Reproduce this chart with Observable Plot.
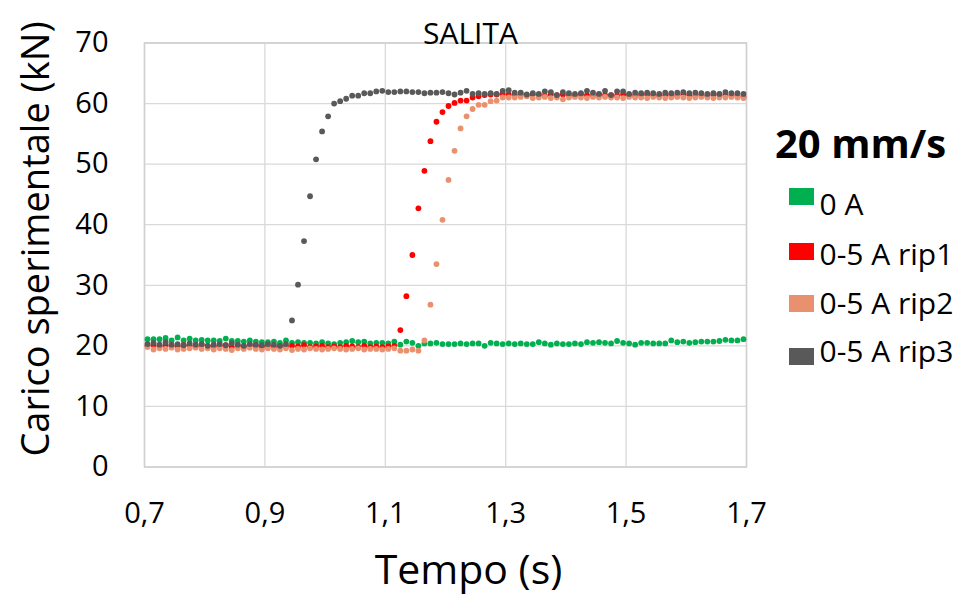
<!DOCTYPE html>
<html>
<head>
<meta charset="utf-8">
<script src="https://cdn.jsdelivr.net/npm/d3@7"></script>
<script src="https://cdn.jsdelivr.net/npm/@observablehq/plot@0.6"></script>
<style>
  html, body { margin: 0; padding: 0; background: #fff; }
  #wrap { position: relative; width: 963px; height: 613px; overflow: hidden; font-family: "Open Sans", sans-serif; color: #000; }
  #wrap svg { display: block; }
  .lg { position: absolute; white-space: nowrap; line-height: 1; }
  .sw { position: absolute; width: 25px; height: 17px; }
</style>
</head>
<body>
<div id="wrap"></div>
<script>
// ---- data ----
const chartTitle = "SALITA";
const xTitle = "Tempo (s)";
const yTitle = "Carico sperimentale (kN)";
const legendTitle = "20 mm/s";

const xTicks = [0.7, 0.9, 1.1, 1.3, 1.5, 1.7];
const yTicks = [0, 10, 20, 30, 40, 50, 60, 70];

const seriesNames = ["0 A", "0-5 A rip1", "0-5 A rip2", "0-5 A rip3"];
const seriesColors = ["#00B050", "#FF0000", "#E9906E", "#595959"];

const time = [
  0.705, 0.715, 0.725, 0.735, 0.745, 0.755, 0.765, 0.775, 0.785, 0.795,
  0.805, 0.815, 0.825, 0.835, 0.845, 0.855, 0.865, 0.875, 0.885, 0.895,
  0.905, 0.915, 0.925, 0.935, 0.945, 0.955, 0.965, 0.975, 0.985, 0.995,
  1.005, 1.015, 1.025, 1.035, 1.045, 1.055, 1.065, 1.075, 1.085, 1.095,
  1.105, 1.115, 1.125, 1.135, 1.145, 1.155, 1.165, 1.175, 1.185, 1.195,
  1.205, 1.215, 1.225, 1.235, 1.245, 1.255, 1.265, 1.275, 1.285, 1.295,
  1.305, 1.315, 1.325, 1.335, 1.345, 1.355, 1.365, 1.375, 1.385, 1.395,
  1.405, 1.415, 1.425, 1.435, 1.445, 1.455, 1.465, 1.475, 1.485, 1.495,
  1.505, 1.515, 1.525, 1.535, 1.545, 1.555, 1.565, 1.575, 1.585, 1.595,
  1.605, 1.615, 1.625, 1.635, 1.645, 1.655, 1.665, 1.675, 1.685, 1.695
];

const load0A = [
  21.1, 21.1, 21.1, 21.3, 20.9, 21.4, 20.9, 21.2, 20.9, 21.0,
  20.9, 20.9, 20.8, 21.2, 20.8, 20.8, 20.7, 20.9, 20.7, 20.6,
  20.6, 20.7, 20.5, 20.9, 20.5, 20.6, 20.5, 20.5, 20.4, 20.6,
  20.4, 20.3, 20.5, 20.6, 20.8, 20.6, 20.7, 20.4, 20.5, 20.5,
  20.4, 20.7, 20.2, 20.7, 20.5, 20.0, 20.4, 20.4, 20.5, 20.3,
  20.3, 20.3, 20.4, 20.3, 20.4, 20.4, 20.0, 20.5, 20.4, 20.3,
  20.4, 20.3, 20.4, 20.3, 20.3, 20.6, 20.4, 20.2, 20.4, 20.3,
  20.3, 20.4, 20.3, 20.6, 20.5, 20.6, 20.5, 20.4, 20.8, 20.5,
  20.4, 20.2, 20.5, 20.5, 20.4, 20.4, 20.4, 20.9, 20.6, 20.7,
  20.5, 20.6, 20.7, 20.7, 20.7, 20.8, 21.0, 20.9, 20.9, 21.1
];

const loadRip1 = [
  20.0, 20.2, 19.9, 20.1, 20.0, 19.9, 20.1, 20.0, 19.9, 20.2,
  20.0, 19.9, 20.0, 20.1, 19.8, 20.0, 19.9, 20.1, 20.0, 19.9,
  20.0, 19.8, 20.0, 19.9, 20.0, 19.9, 20.1, 19.8, 19.9, 20.0,
  19.8, 19.9, 19.8, 20.0, 19.9, 19.8, 20.0, 19.8, 19.9, 19.8,
  19.9, 20.0, 22.6, 28.2, 35.0, 42.7, 48.9, 53.8, 57.0, 58.6,
  59.6, 60.1, 60.5, 60.5, 61.0, 61.2, 61.4, 61.5, 61.5, 61.6,
  61.5, 61.4, 61.5, 61.4, 61.5, 61.4, 61.3, 61.5, 61.4, 61.5,
  61.3, 61.4, 61.5, 61.4, 61.3, 61.5, 61.4, 61.4, 61.3, 61.5,
  61.4, 61.3, 61.4, 61.5, 61.4, 61.3, 61.4, 61.4, 61.3, 61.5,
  61.4, 61.3, 61.4, 61.3, 61.4, 61.5, 61.3, 61.4, 61.3, 61.1
];

const loadRip2 = [
  19.8, 19.4, 19.6, 19.5, 19.7, 19.4, 19.5, 19.6, 19.7, 19.5,
  19.6, 19.4, 19.6, 19.5, 19.3, 19.6, 19.5, 19.7, 19.5, 19.4,
  19.6, 19.5, 19.4, 19.6, 19.3, 19.5, 19.4, 19.6, 19.5, 19.4,
  19.5, 19.6, 19.5, 19.4, 19.5, 19.6, 19.4, 19.5, 19.5, 19.4,
  19.5, 19.6, 19.2, 19.2, 19.4, 19.2, 20.9, 26.8, 33.5, 40.8,
  47.4, 52.2, 55.9, 57.9, 59.1, 59.8, 59.8, 60.4, 60.5, 61.0,
  61.0, 61.0, 61.1, 61.2, 60.9, 61.0, 61.1, 60.9, 61.0, 60.7,
  61.0, 61.1, 61.0, 60.9, 61.1, 61.0, 61.1, 61.0, 61.0, 60.9,
  61.1, 61.0, 61.0, 60.9, 61.1, 61.0, 60.9, 61.0, 61.1, 61.0,
  60.9, 61.0, 61.1, 61.0, 60.9, 61.0, 61.0, 61.1, 61.0, 60.9
];

const loadRip3 = [
  20.3, 20.5, 20.2, 20.6, 20.2, 20.3, 20.1, 20.4, 20.2, 20.3,
  20.0, 20.2, 20.3, 20.1, 20.4, 20.2, 20.0, 20.3, 20.2, 20.1,
  20.3, 20.2, 20.0, 20.3, 24.2, 30.1, 37.3, 44.7, 50.8, 55.4,
  57.9, 60.0, 60.4, 60.8, 61.3, 61.3, 61.7, 61.7, 62.0, 62.1,
  61.9, 61.9, 62.0, 62.0, 61.9, 61.9, 61.7, 61.8, 61.8, 61.9,
  61.7, 61.5, 61.8, 62.1, 61.6, 61.7, 61.6, 61.7, 61.6, 62.1,
  62.2, 61.8, 61.8, 61.5, 61.7, 61.6, 62.0, 61.9, 61.4, 61.9,
  61.7, 61.6, 61.7, 62.1, 61.8, 61.6, 62.1, 61.4, 62.0, 62.0,
  61.6, 61.8, 61.7, 61.8, 61.7, 61.6, 61.8, 61.7, 61.8, 61.9,
  61.7, 61.8, 61.7, 61.6, 61.7, 61.6, 61.9, 61.7, 61.7, 61.6
];

// ---- build long table ----
const seriesValues = [load0A, loadRip1, loadRip2, loadRip3];
const rows = [];
seriesValues.forEach((vals, s) => {
  vals.forEach((v, i) => rows.push({t: time[i], v, series: seriesNames[s]}));
});

const fmtX = d => d.toFixed(1).replace(".", ",");

const chart = Plot.plot({
  width: 963,
  height: 613,
  marginLeft: 144,
  marginRight: 217,
  marginTop: 42.5,
  marginBottom: 146.5,
  style: {fontFamily: "Open Sans", fontSize: "29px", color: "#000", background: "#fff"},
  x: {domain: [0.7, 1.7]},
  y: {domain: [0, 70]},
  color: {domain: seriesNames, range: seriesColors},
  marks: [
    Plot.gridX(xTicks, {stroke: "#d9d9d9", strokeOpacity: 1, strokeWidth: 1.3}),
    Plot.gridY(yTicks, {stroke: "#d9d9d9", strokeOpacity: 1, strokeWidth: 1.3}),
    Plot.frame({stroke: "#d0d0d0", strokeWidth: 1.5}),
    Plot.axisY(yTicks, {tickSize: 0, tickPadding: 36, fontSize: 29, label: null, tickFormat: d => String(d)}),
    Plot.axisX(xTicks, {tickSize: 0, tickPadding: 35, fontSize: 29, label: null, tickFormat: fmtX}),
    Plot.dot(rows, {x: "t", y: "v", fill: "series", r: 2.9}),
    Plot.text([chartTitle], {frameAnchor: "top", dy: -20.5, dx: 25, fontSize: 30}),
    Plot.text([xTitle], {frameAnchor: "bottom", dy: 117, dx: 23, fontSize: 41}),
    Plot.text([yTitle], {frameAnchor: "left", textAnchor: "middle", rotate: -90, dx: -108, dy: -16, fontSize: 38})
  ]
});

const wrap = document.getElementById("wrap");
wrap.appendChild(chart);

// ---- legend (HTML overlay) ----
const head = document.createElement("div");
head.className = "lg";
head.textContent = legendTitle;
head.style.cssText = "left:775px;top:122.5px;font-size:40px;font-weight:700;";
wrap.appendChild(head);

const swTops = [188, 243, 295, 348];
const txtBase = [215.7, 265.7, 314.3, 362.3];
seriesNames.forEach((name, i) => {
  const sw = document.createElement("div");
  sw.className = "sw";
  sw.style.left = "789px";
  sw.style.top = swTops[i] + "px";
  sw.style.background = seriesColors[i];
  wrap.appendChild(sw);
  const tx = document.createElement("div");
  tx.className = "lg";
  tx.textContent = name;
  tx.style.left = "819.5px";
  tx.style.top = (txtBase[i] - 26.6) + "px";
  tx.style.fontSize = "30px";
  wrap.appendChild(tx);
});
</script>
</body>
</html>
